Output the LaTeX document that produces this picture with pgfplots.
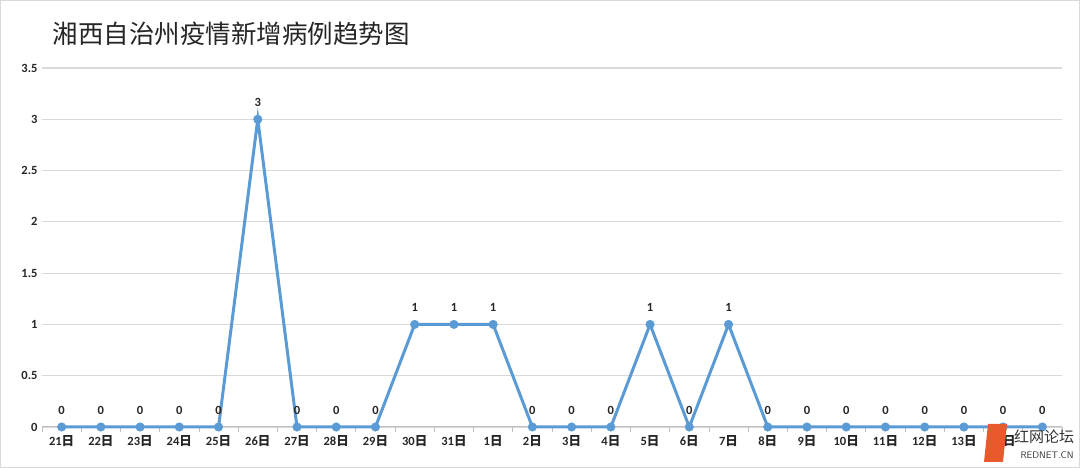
\documentclass[border=0pt]{standalone}
\usepackage{pgfplots}
\pgfplotsset{compat=1.18}
\usepackage{fontspec}
\setmainfont{Carlito}
\newfontfamily\cjk{Noto Sans CJK SC}
\definecolor{lineblue}{HTML}{5B9BD5}
\definecolor{gridgray}{HTML}{D9D9D9}
\definecolor{axisgray}{HTML}{BFBFBF}
\definecolor{logoorange}{HTML}{E85A2C}

\begin{document}
\begin{tikzpicture}[x=1pt,y=1pt]
\draw[draw=gridgray, fill=white, line width=1pt] (0.5,0.5) rectangle (1079.5,467.5);
\useasboundingbox (0,0) rectangle (1080,468);
\node[anchor=west, font=\cjk\fontsize{25.5}{30}\selectfont, text=black!85] at (49,434) {湘西自治州疫情新增病例趋势图};
\begin{axis}[
  at={(42pt,41pt)}, anchor=south west,
  scale only axis, width=1020pt, height=359pt,
  xmin=-0.5, xmax=25.5, ymin=0, ymax=3.5,
  ytick={0,0.5,...,3.5},
  xtick={0,...,25},
  xticklabels={21\cjk 日,22\cjk 日,23\cjk 日,24\cjk 日,25\cjk 日,26\cjk 日,27\cjk 日,28\cjk 日,29\cjk 日,30\cjk 日,31\cjk 日,1\cjk 日,2\cjk 日,3\cjk 日,4\cjk 日,5\cjk 日,6\cjk 日,7\cjk 日,8\cjk 日,9\cjk 日,10\cjk 日,11\cjk 日,12\cjk 日,13\cjk 日,14\cjk 日,{}},
  minor xtick={-0.5,0.5,...,25.5},
  major tick length=0pt, minor tick length=5pt, tick align=outside,
  axis x line*=bottom, axis y line*=left,
  x axis line style={draw=axisgray, line width=1pt, -},
  y axis line style={draw=none},
  minor tick style={draw=axisgray, line width=0.8pt},
  ymajorgrids, grid style={draw=gridgray, line width=1.2pt},
  /pgf/number format/assume math mode=true,
  ticklabel style={font=\bfseries\fontsize{12.5}{14}\selectfont, text=black!85},
  yticklabel style={xshift=-1pt},
  xticklabel style={yshift=-5pt},
  clip=false,
  nodes near coords,
  every node near coord/.append style={anchor=center, yshift=17pt, font=\bfseries\fontsize{12.5}{14}\selectfont, text=black!85},
]
\addplot[color=lineblue, line width=3pt, mark=*, mark size=4.3pt, mark options={fill=lineblue, draw=lineblue, line width=0.4pt}] coordinates {
(0,0) (1,0) (2,0) (3,0) (4,0) (5,3) (6,0) (7,0) (8,0) (9,1)
(10,1) (11,1) (12,0) (13,0) (14,0) (15,1) (16,0) (17,1) (18,0) (19,0)
(20,0) (21,0) (22,0) (23,0) (24,0) (25,0)
};
\end{axis}
% watermark
\fill[logoorange] (988,44) -- (1007,44) -- (1003,6) -- (984,6) -- cycle;
\node[anchor=west, font=\cjk\fontsize{15}{17}\selectfont, text=black!80, inner sep=1pt] at (1013,31) {红网论坛};
\node[anchor=west, font=\sffamily\fontsize{9.5}{11}\selectfont, text=black!80] at (1017,13) {REDNET.CN};
\end{tikzpicture}
\end{document}
